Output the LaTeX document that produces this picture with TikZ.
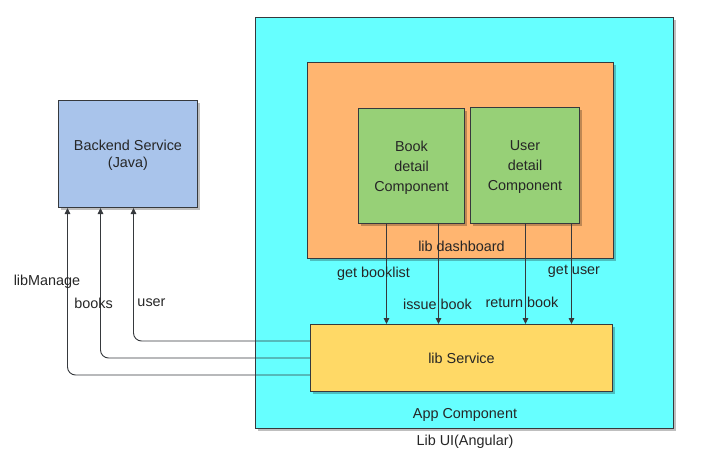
\documentclass[tikz,border=0pt]{standalone}
\usepackage{fontspec}
\setmainfont{Liberation Sans}
\usetikzlibrary{arrows.meta,shadows}
\definecolor{appcyan}{HTML}{66FFFF}
\definecolor{dashorange}{HTML}{FFB570}
\definecolor{compgreen}{HTML}{97D077}
\definecolor{servyellow}{HTML}{FFD966}
\definecolor{backblue}{HTML}{A9C4EB}
\definecolor{edge}{HTML}{36393D}

\begin{document}
\begin{tikzpicture}[x=1pt,y=-1pt,
        txt/.style={font=\fontsize{14.4}{17.3}\selectfont, text=black!85},
        lbl/.style={txt, yshift=-2pt},
        block/.style={txt, draw=edge, line width=1pt, anchor=north west, inner sep=0pt, align=center,
            drop shadow={shadow xshift=2.5pt, shadow yshift=-2.5pt, fill=black, opacity=0.25}},
        arr/.style={-{Triangle[length=6pt,width=5.5pt]}, draw=edge, line width=0.9pt}]

        \useasboundingbox (0,0) rectangle (704,472);

        %App Component
        \node[block, fill=appcyan, minimum width=418, minimum height=411] (app) at (255,17) {};
        \node[lbl] (applbl) at (465,413) {App Component};
        \node[lbl] (uilbl) at (465,440) {Lib UI(Angular)};

        %lib dashboard
        \node[block, fill=dashorange, minimum width=306, minimum height=196] (dash) at (307,62) {};
        \node[block, fill=compgreen, minimum width=106, minimum height=115, font=\fontsize{14.4}{20}\selectfont] (book) at (358,108) {\rule{0pt}{13pt}Book\\detail\\Component};
        \node[block, fill=compgreen, minimum width=109, minimum height=116, font=\fontsize{14.4}{20}\selectfont] (user) at (470,107) {\rule{0pt}{13pt}User\\detail\\Component};

        %lib Service
        \node[block, fill=servyellow, minimum width=302, minimum height=67] (service) at (310,324) {lib Service};

        %Backend
        \node[block, fill=backblue, minimum width=139, minimum height=107] (backend) at (58,100) {\rule{0pt}{13pt}Backend Service\\(Java)};

        \draw[arr] ([xshift=-25pt]book.south) coordinate (b1) -- (b1 |- service.north);
        \draw[arr] ([xshift=27pt]book.south) coordinate (b2) -- (b2 |- service.north);
        \draw[arr] ([xshift=0.5pt]user.south) coordinate (u1) -- (u1 |- service.north);
        \draw[arr] ([xshift=46.5pt]user.south) coordinate (u2) -- (u2 |- service.north);

        \draw[arr, rounded corners=8pt] ([yshift=17pt]service.west) -| ([xshift=5.5pt]backend.south);
        \draw[arr, rounded corners=8pt] (service.west) -| ([xshift=-27.5pt]backend.south);
        \draw[arr, rounded corners=8pt] ([yshift=-17pt]service.west) -| ([xshift=-60.5pt]backend.south);

        \node[lbl] (dashlbl) at (461.5,244) {lib dashboard};
        \node[lbl] (getbooks) at (373.5,272) {get booklist};
        \node[lbl] (issue) at (437.5,302) {issue book};
        \node[lbl] (return) at (522,300) {return book};
        \node[lbl] (getuser) at (574,269) {get user};
        \node[lbl] (manage) at (47,280) {libManage};
        \node[lbl] (books) at (93.5,301) {books};
        \node[lbl] (userlbl) at (151.5,301) {user};
    \end{tikzpicture}
\end{document}
